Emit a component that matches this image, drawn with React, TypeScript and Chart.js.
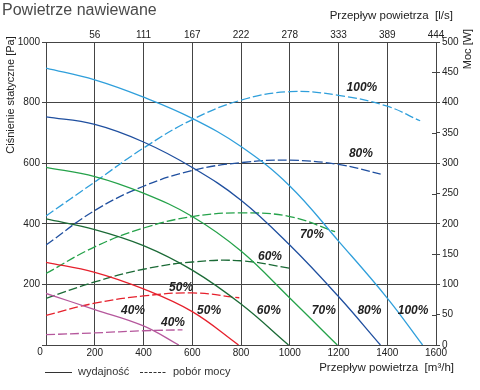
import React, { useEffect, useRef } from 'react';
import { Chart, registerables } from 'chart.js';

Chart.register(...registerables);

// ---- data ----
const flow100 = [0, 200, 400, 600, 800, 1000, 1200, 1400, 1545];
const pres100 = [914, 875, 818, 748, 655, 525, 343, 155, 0];
const flow80 = [0, 200, 400, 600, 800, 1000, 1200, 1372];
const pres80 = [753, 728, 670, 586, 478, 330, 160, 0];
const flow70 = [0, 200, 400, 600, 800, 1000, 1195];
const pres70 = [586, 556, 501, 424, 310, 155, 0];
const flow60 = [0, 200, 400, 600, 800, 995];
const pres60 = [416, 381, 328, 247, 135, 0];
const flow50 = [0, 200, 400, 600, 790];
const pres50 = [273, 240, 185, 110, 0];
const flow40 = [0, 200, 400, 545];
const pres40 = [170, 117, 63, 0];

const pflow100 = [0, 200, 400, 600, 800, 1000, 1200, 1400, 1535];
const power100 = [213, 269, 325, 372, 404, 418, 412, 394, 370];
const pflow80 = [0, 200, 400, 600, 800, 1000, 1200, 1373];
const power80 = [165, 222, 262, 288, 301, 305, 298, 282];
const pflow70 = [0, 200, 400, 600, 800, 1000, 1186];
const power70 = [118, 162, 193, 212, 218, 212, 187];
const pflow60 = [0, 200, 400, 600, 800, 997];
const power60 = [77, 104, 125, 137, 139, 127];
const pflow50 = [0, 200, 400, 600, 793];
const power50 = [49, 69, 81, 86, 78];
const pflow40 = [0, 200, 400, 560];
const power40 = [17, 20, 23.5, 25];

const topTickLabels = ['56', '111', '167', '222', '278', '333', '389', '444'];

const curveLabels = ['100%', '80%', '70%', '60%', '50%', '40%', '40%', '50%', '60%', '70%', '80%', '100%'];
const labelFlow = [1296, 1292, 1091, 919, 554, 521, 357, 669, 914, 1140, 1327, 1506];
const labelPa = [850, 630, 363, 291, 190, 72, 112, 114, 114, 112, 112, 112];

const COLORS = {
  c100: '#2f9fdb',
  c80: '#1f4f9f',
  c70: '#25a24a',
  c60: '#1b6a36',
  c50: '#e6202c',
  c40: '#b5579c',
};

const FONT = "'Liberation Sans', Arial, sans-serif";

function pts(xs: number[], ys: number[]) {
  return xs.map((x, i) => ({ x, y: ys[i] }));
}

const extras = {
  id: 'extras',
  afterDatasetsDraw(chart: any) {
    const ctx = chart.ctx;
    const xs = chart.scales.x;
    const ys = chart.scales.y;
    ctx.save();
    ctx.fillStyle = '#222';
    ctx.font = `italic bold 12px ${FONT}`;
    ctx.textAlign = 'center';
    ctx.textBaseline = 'middle';
    curveLabels.forEach((t, i) => {
      ctx.fillText(t, xs.getPixelForValue(labelFlow[i]), ys.getPixelForValue(labelPa[i]));
    });
    ctx.restore();
  },
  afterDraw(chart: any) {
    const ctx = chart.ctx;
    const y1 = chart.scales.y1;
    const area = chart.chartArea;
    ctx.save();
    // inner minor ticks on right axis
    ctx.strokeStyle = '#444';
    ctx.lineWidth = 1;
    for (let v = 50; v < 500; v += 100) {
      const py = Math.round(y1.getPixelForValue(v)) + 0.5;
      ctx.beginPath();
      ctx.moveTo(area.right - 4, py);
      ctx.lineTo(area.right, py);
      ctx.stroke();
    }
    // title
    ctx.fillStyle = '#4a4a4a';
    ctx.font = `16px ${FONT}`;
    ctx.textAlign = 'left';
    ctx.textBaseline = 'middle';
    ctx.fillText('Powietrze nawiewane', 2, 11);
    // axis titles
    ctx.fillStyle = '#222';
    ctx.font = `11.5px ${FONT}`;
    ctx.textAlign = 'right';
    ctx.fillText('Przepływ powietrza  [l/s]', 453, 16);
    ctx.fillText('Przepływ powietrza  [m³/h]', 454, 368);
    ctx.font = `11px ${FONT}`;
    ctx.save();
    ctx.translate(11, 95);
    ctx.rotate(-Math.PI / 2);
    ctx.textAlign = 'center';
    ctx.fillText('Ciśnienie statyczne [Pa]', 0, 0);
    ctx.restore();
    ctx.save();
    ctx.translate(467.5, 49);
    ctx.rotate(-Math.PI / 2);
    ctx.textAlign = 'center';
    ctx.fillText('Moc [W]', 0, 0);
    ctx.restore();
    // origin label
    ctx.font = `10px ${FONT}`;
    ctx.textAlign = 'center';
    ctx.fillText('0', 40, 352);
    // legend
    ctx.strokeStyle = '#333';
    ctx.lineWidth = 1;
    ctx.beginPath();
    ctx.moveTo(45, 372.5);
    ctx.lineTo(72, 372.5);
    ctx.stroke();
    ctx.setLineDash([3, 1.5]);
    ctx.beginPath();
    ctx.moveTo(140, 372.5);
    ctx.lineTo(167, 372.5);
    ctx.stroke();
    ctx.setLineDash([]);
    ctx.fillStyle = '#333';
    ctx.font = `11px ${FONT}`;
    ctx.textAlign = 'left';
    ctx.fillText('wydajność', 78, 372);
    ctx.fillText('pobór mocy', 173, 372);
    ctx.restore();
  },
};

export default function App() {
  const ref = useRef<HTMLCanvasElement | null>(null);
  useEffect(() => {
    document.body.style.margin = '0';
    if (!ref.current) return;
    const solid = (label: string, xs: number[], ys: number[], color: string) => ({
      label,
      data: pts(xs, ys),
      borderColor: color,
      borderWidth: 1.3,
      pointRadius: 0,
      fill: false,
      tension: 0.4,
      yAxisID: 'y',
      xAxisID: 'x',
    });
    const dashed = (label: string, xs: number[], ys: number[], color: string) => ({
      label,
      data: pts(xs, ys),
      borderColor: color,
      borderWidth: 1.3,
      borderDash: [9, 3],
      pointRadius: 0,
      fill: false,
      tension: 0.4,
      yAxisID: 'y1',
      xAxisID: 'x',
    });
    const tickFont = { family: FONT, size: 10 };
    const chart = new Chart(ref.current, {
      type: 'line',
      data: {
        datasets: [
          solid('100%', flow100, pres100, COLORS.c100),
          solid('80%', flow80, pres80, COLORS.c80),
          solid('70%', flow70, pres70, COLORS.c70),
          solid('60%', flow60, pres60, COLORS.c60),
          solid('50%', flow50, pres50, COLORS.c50),
          solid('40%', flow40, pres40, COLORS.c40),
          dashed('100% P', pflow100, power100, COLORS.c100),
          dashed('80% P', pflow80, power80, COLORS.c80),
          dashed('70% P', pflow70, power70, COLORS.c70),
          dashed('60% P', pflow60, power60, COLORS.c60),
          dashed('50% P', pflow50, power50, COLORS.c50),
          dashed('40% P', pflow40, power40, COLORS.c40),
        ],
      },
      options: {
        responsive: false,
        animation: false,
        layout: { padding: 0 },
        plugins: { legend: { display: false }, tooltip: { enabled: false } },
        scales: {
          x: {
            type: 'linear',
            position: 'bottom',
            min: 0,
            max: 1600,
            ticks: {
              stepSize: 200,
              autoSkip: false,
              maxRotation: 0,
              padding: 2,
              color: '#222',
              font: tickFont,
              callback: (v: any) => (v === 0 ? '' : String(v)),
            },
            grid: { color: '#444', lineWidth: 1, drawTicks: false },
            border: { color: '#444' },
            afterFit: (s: any) => { s.height = 45; },
          },
          x2: {
            type: 'linear',
            position: 'top',
            min: 0,
            max: 1600,
            ticks: {
              stepSize: 200,
              autoSkip: false,
              maxRotation: 0,
              padding: 1,
              color: '#222',
              font: tickFont,
              callback: (_v: any, i: number) => (i === 0 ? '' : topTickLabels[i - 1]),
            },
            grid: { drawOnChartArea: false, drawTicks: false },
            border: { color: '#444' },
            afterFit: (s: any) => { s.height = 42; },
          },
          y: {
            position: 'left',
            min: 0,
            max: 1000,
            ticks: {
              stepSize: 200,
              padding: 2,
              color: '#222',
              font: tickFont,
              callback: (v: any) => (v === 0 ? '' : String(v)),
            },
            grid: { color: '#444', lineWidth: 1, tickLength: 4 },
            border: { color: '#444' },
            afterFit: (s: any) => { s.width = 46; },
          },
          y1: {
            position: 'right',
            min: 0,
            max: 500,
            ticks: { stepSize: 50, padding: 2, color: '#222', font: tickFont },
            grid: { drawOnChartArea: false, color: '#444', tickLength: 4 },
            border: { color: '#444' },
            afterFit: (s: any) => { s.width = 44; },
          },
        },
      },
      plugins: [extras],
    } as any);
    return () => chart.destroy();
  }, []);
  return (
    <div style={{ position: 'absolute', left: 0, top: 0, width: 480, height: 390 }}>
      <canvas ref={ref} width={480} height={390} />
    </div>
  );
}
